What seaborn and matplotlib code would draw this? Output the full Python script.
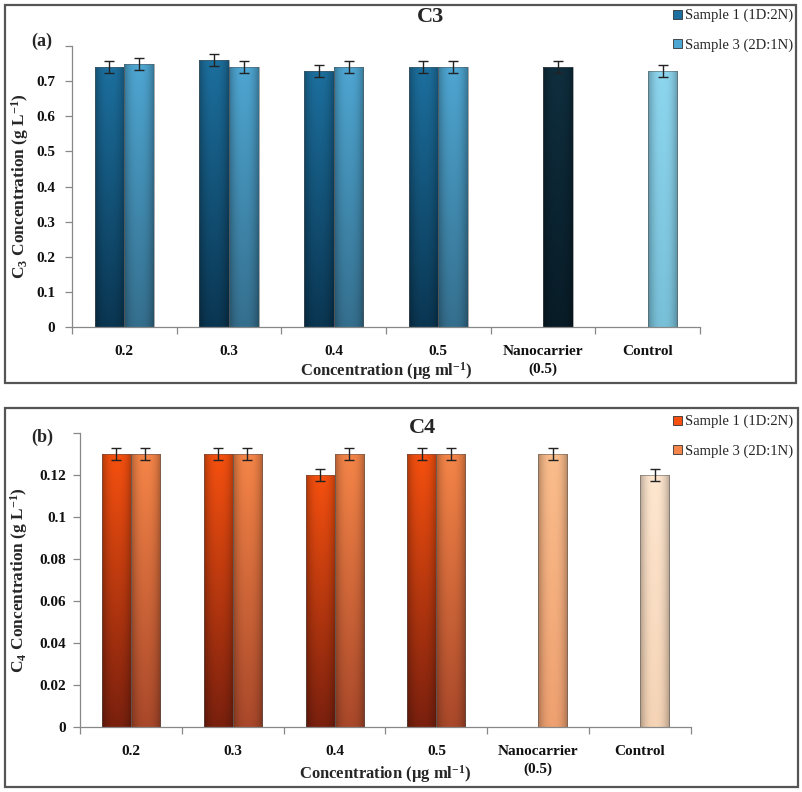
import numpy as np
import pandas as pd
import matplotlib
matplotlib.use("Agg")
import matplotlib.pyplot as plt
from matplotlib.patches import Rectangle, Patch
from matplotlib.colors import to_rgb
import seaborn as sns

# ---------------- data ----------------
categories = ["0.2", "0.3", "0.4", "0.5", "Nanocarrier\n(0.5)", "Control"]
series_names = ["Sample 1 (1D:2N)", "Sample 3 (2D:1N)"]

c3_sample1 = [0.74, 0.76, 0.73, 0.74, np.nan, np.nan]
c3_sample3 = [0.75, 0.74, 0.74, 0.74, 0.74, 0.73]
c3_err = [0.017, 0.017, 0.017, 0.017, 0.017, 0.017]

c4_sample1 = [0.13, 0.13, 0.12, 0.13, np.nan, np.nan]
c4_sample3 = [0.13, 0.13, 0.13, 0.13, 0.13, 0.12]
c4_err = [0.0028, 0.0028, 0.0028, 0.0028, 0.0028, 0.0028]

c3_yticks = [0, 0.1, 0.2, 0.3, 0.4, 0.5, 0.6, 0.7, 0.8]
c3_yticklabels = ["0", "0.1", "0.2", "0.3", "0.4", "0.5", "0.6", "0.7", ""]
c4_yticks = [0, 0.02, 0.04, 0.06, 0.08, 0.1, 0.12, 0.14]
c4_yticklabels = ["0", "0.02", "0.04", "0.06", "0.08", "0.1", "0.12", ""]

# ---------------- style ----------------
sns.set_theme(style="white")
plt.rcParams["font.family"] = ["Liberation Serif", "DejaVu Serif"]
plt.rcParams["mathtext.fontset"] = "custom"
plt.rcParams["mathtext.rm"] = "Liberation Serif:bold"
plt.rcParams["mathtext.bf"] = "Liberation Serif:bold"
plt.rcParams["mathtext.it"] = "Liberation Serif:bold"

# (top colour, bottom colour) for each series; special colours for the single bars
c3_cols = {
    0: ("#1c6f9e", "#0a3652"),
    1: ("#4ea6d2", "#356f8e"),
    "Nanocarrier\n(0.5)": ("#0f2e3e", "#081c27"),
    "Control": ("#8dd6ef", "#78c0d8"),
}
c4_cols = {
    0: ("#f5500f", "#7a200e"),
    1: ("#f58548", "#a9482a"),
    "Nanocarrier\n(0.5)": ("#fbbd8c", "#eea070"),
    "Control": ("#fee6cf", "#f5d4b6"),
}

W, H = 803, 792


def gradient_image(top, bottom, n=64):
    t = np.linspace(0, 1, n)[:, None]
    u = np.linspace(0, 1, 32)[None, :]
    top = np.array(to_rgb(top))
    bottom = np.array(to_rgb(bottom))
    base = top[None, None, :] * (1 - t[..., None]) + bottom[None, None, :] * t[..., None]
    shade = 1 - 0.28 * np.abs(2 * u - 1) ** 2.5
    img = base * shade[..., None]
    return np.clip(img, 0, 1)


def draw_panel(fig, px_box, s1, s3, err, cols, yticks, yticklabels, ylabel, title, tag,
               title_xy, tag_xy, legend_anchor, ylabel_x, xlabel_y, ytick_pad):
    left, top_px, right, bottom_px = px_box
    rect = [left / W, 1 - bottom_px / H, (right - left) / W, (bottom_px - top_px) / H]
    ax = fig.add_axes(rect)
    rows = []
    for i, c in enumerate(categories):
        for sname, vals in zip(series_names, (s1, s3)):
            if not np.isnan(vals[i]):
                rows.append({"cat": c, "series": sname, "val": vals[i], "err": err[i]})
    df = pd.DataFrame(rows)
    sns.barplot(data=df, x="cat", y="val", hue="series", order=categories,
                hue_order=series_names, width=0.57, gap=0.0, errorbar=None,
                ax=ax, legend=False, saturation=1)

    ylim = (yticks[0], yticks[-1])
    bar_containers = list(ax.containers)
    for si, cont in enumerate(bar_containers):
        sname = series_names[si]
        sub = df[df["series"] == sname].set_index("cat")
        for bar in cont:
            xc = bar.get_x() + bar.get_width() / 2
            cat = categories[int(round(xc))]
            key = cat if cat in cols else si
            top, bottom = cols[key]
            h = bar.get_height()
            bar.set_facecolor("none")
            bar.set_edgecolor((0.35, 0.35, 0.35, 0.6))
            bar.set_linewidth(0.6)
            im = ax.imshow(gradient_image(top, bottom),
                           extent=[bar.get_x(), bar.get_x() + bar.get_width(), 0, h],
                           aspect="auto", origin="upper", zorder=1.5,
                           interpolation="bilinear")
            im.set_clip_path(bar)
            bar.set_zorder(2)
            ax.errorbar(xc, h, yerr=sub.loc[cat, "err"], fmt="none", ecolor="#222222",
                        elinewidth=1.0, capsize=3.5, capthick=1.0, zorder=3)

    ax.set_xlim(-0.5, len(categories) - 0.5)
    ax.set_ylim(*ylim)
    ax.set_yticks(yticks)
    ax.set_yticklabels(yticklabels)
    ax.set_xticks(range(len(categories)))
    ax.set_xticklabels(categories, linespacing=1.45)
    ax.set_xticks(np.arange(-0.5, len(categories), 1.0), minor=True)
    ax.tick_params(axis="x", which="major", length=0, pad=13, labelsize=11)
    ax.tick_params(axis="x", which="minor", length=5, width=0.9, color="#888888",
                   direction="out", bottom=True)
    ax.tick_params(axis="y", which="major", length=5, width=0.9, color="#888888",
                   direction="out", left=True, labelsize=11, pad=ytick_pad)
    for lab in ax.get_xticklabels() + ax.get_yticklabels():
        lab.set_fontweight("bold")
        lab.set_color("#111111")
    for side in ("top", "right"):
        ax.spines[side].set_visible(False)
    for side in ("left", "bottom"):
        ax.spines[side].set_color("#888888")
        ax.spines[side].set_linewidth(0.9)
    ax.set_ylabel(ylabel, fontsize=12.5, fontweight="bold")
    ax.yaxis.set_label_coords((ylabel_x - left) / (right - left), 0.5)
    ax.set_xlabel("Concentration (μg ml$^{-1}$)", fontsize=12, fontweight="bold")
    ax.xaxis.set_label_coords(0.5, -(xlabel_y - bottom_px) / (bottom_px - top_px))
    ax.xaxis.label.set_va("center")
    ax.yaxis.label.set_va("center")

    fig.text(title_xy[0] / W, 1 - title_xy[1] / H, title, fontsize=16, fontweight="bold",
             ha="center", va="center")
    fig.text(tag_xy[0] / W, 1 - tag_xy[1] / H, tag, fontsize=13, fontweight="bold",
             ha="center", va="center")

    handles = [Patch(facecolor=cols[i][0], edgecolor="#333333", linewidth=0.6)
               for i in range(2)]
    fig.legend(handles, series_names, loc="upper right",
               bbox_to_anchor=(legend_anchor[0] / W, 1 - legend_anchor[1] / H),
               bbox_transform=fig.transFigure,
               frameon=False, fontsize=10.5, handlelength=0.6, handleheight=0.6,
               handletextpad=0.2, labelspacing=1.1, borderaxespad=0,
               borderpad=0)
    return ax


fig = plt.figure(figsize=(W / 100, H / 100), dpi=100)

# panel frames
fig.add_artist(Rectangle((5 / W, 1 - 383 / H), 791 / W, 378 / H, transform=fig.transFigure,
                         fill=False, edgecolor="#555555", linewidth=1.6))
fig.add_artist(Rectangle((5 / W, 1 - 787 / H), 793 / W, 379 / H, transform=fig.transFigure,
                         fill=False, edgecolor="#555555", linewidth=1.6))

draw_panel(fig, (72, 46, 700, 327),
           c3_sample1, c3_sample3, c3_err, c3_cols, c3_yticks, c3_yticklabels,
           "C$_{3}$ Concentration (g L$^{-1}$)", "C3", "(a)",
           (431, 17), (42, 41), (793, 9), 20, 371, 7)

draw_panel(fig, (80, 433, 691, 727),
           c4_sample1, c4_sample3, c4_err, c4_cols, c4_yticks, c4_yticklabels,
           "C$_{4}$ Concentration (g L$^{-1}$)", "C4", "(b)",
           (422, 428), (42, 437), (793, 415), 19, 774, 5)

fig.savefig("out.png", dpi=100)
